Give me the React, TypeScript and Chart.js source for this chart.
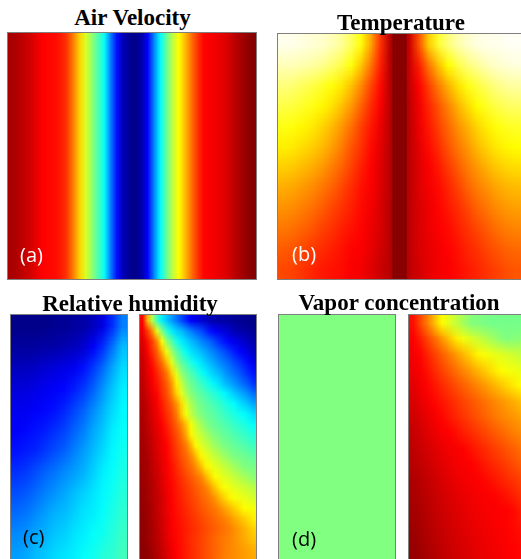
import React, { useEffect, useRef } from 'react';
import { Chart, registerables } from 'chart.js';

Chart.register(...registerables);

// ---------- data (normalised field values) ----------
// (a) Air velocity: one value per column, left to right (jet colour map)
const AIR_VELOCITY = [
  0.96, 0.95, 0.935, 0.92, 0.9, 0.875, 0.87, 0.865, 0.85, 0.82,
  0.75, 0.67, 0.59, 0.52, 0.45, 0.38, 0.25, 0.14, 0.06, 0.02,
  0.01, 0.04, 0.12, 0.25, 0.37, 0.47, 0.56, 0.625, 0.69, 0.76,
  0.82, 0.87, 0.88, 0.89, 0.9, 0.915, 0.94, 0.96, 0.98, 0.995,
];

// (b) Temperature: rows top to bottom, columns left to right (hot colour map)
const TEMPERATURE = [
  [0.98, 0.98, 0.97, 0.96, 0.95, 0.93, 0.9, 0.84, 0.76, 0.62, 0.45, 0.27, 0.2, 0.3, 0.5, 0.68, 0.8, 0.87, 0.92, 0.95, 0.97, 0.98, 0.98, 0.99, 0.99],
  [0.93, 0.93, 0.92, 0.91, 0.89, 0.86, 0.82, 0.76, 0.67, 0.55, 0.42, 0.27, 0.2, 0.3, 0.42, 0.55, 0.66, 0.75, 0.82, 0.87, 0.9, 0.93, 0.95, 0.96, 0.97],
  [0.87, 0.86, 0.84, 0.82, 0.79, 0.76, 0.72, 0.66, 0.58, 0.48, 0.39, 0.27, 0.2, 0.29, 0.38, 0.47, 0.56, 0.64, 0.71, 0.77, 0.81, 0.85, 0.88, 0.9, 0.91],
  [0.82, 0.81, 0.79, 0.77, 0.74, 0.71, 0.66, 0.6, 0.52, 0.44, 0.37, 0.27, 0.2, 0.28, 0.36, 0.43, 0.5, 0.57, 0.64, 0.7, 0.75, 0.79, 0.82, 0.84, 0.85],
  [0.77, 0.76, 0.74, 0.72, 0.69, 0.65, 0.6, 0.54, 0.47, 0.41, 0.35, 0.27, 0.2, 0.28, 0.35, 0.41, 0.47, 0.53, 0.59, 0.64, 0.69, 0.73, 0.76, 0.78, 0.79],
  [0.73, 0.72, 0.7, 0.68, 0.65, 0.61, 0.56, 0.5, 0.45, 0.39, 0.34, 0.27, 0.2, 0.28, 0.34, 0.39, 0.44, 0.5, 0.55, 0.6, 0.65, 0.69, 0.72, 0.74, 0.75],
  [0.68, 0.67, 0.65, 0.63, 0.6, 0.56, 0.52, 0.47, 0.42, 0.38, 0.33, 0.27, 0.2, 0.28, 0.33, 0.37, 0.41, 0.46, 0.51, 0.56, 0.6, 0.64, 0.67, 0.69, 0.7],
  [0.63, 0.62, 0.6, 0.58, 0.55, 0.52, 0.48, 0.44, 0.4, 0.37, 0.33, 0.27, 0.2, 0.28, 0.33, 0.36, 0.39, 0.43, 0.47, 0.52, 0.56, 0.59, 0.62, 0.64, 0.65],
  [0.59, 0.58, 0.56, 0.54, 0.51, 0.48, 0.45, 0.42, 0.39, 0.36, 0.32, 0.27, 0.2, 0.28, 0.32, 0.35, 0.38, 0.41, 0.44, 0.48, 0.52, 0.55, 0.58, 0.6, 0.61],
  [0.55, 0.54, 0.52, 0.5, 0.47, 0.45, 0.42, 0.4, 0.38, 0.35, 0.32, 0.27, 0.2, 0.28, 0.32, 0.35, 0.37, 0.39, 0.42, 0.45, 0.48, 0.51, 0.54, 0.56, 0.57],
  [0.51, 0.5, 0.48, 0.46, 0.44, 0.42, 0.4, 0.38, 0.37, 0.34, 0.31, 0.27, 0.2, 0.28, 0.32, 0.34, 0.36, 0.38, 0.4, 0.43, 0.45, 0.48, 0.5, 0.52, 0.53],
  [0.48, 0.47, 0.45, 0.43, 0.41, 0.4, 0.39, 0.37, 0.36, 0.33, 0.3, 0.27, 0.2, 0.28, 0.31, 0.34, 0.36, 0.37, 0.39, 0.41, 0.43, 0.45, 0.47, 0.49, 0.5],
];
// central wall of panel (b): extent in domain units and its temperature
const TEMP_DOMAIN = [-1, 1];
const WALL_RANGE = [-0.058, 0.058];
const WALL_VALUE = 0.2;
const WALL_EDGE_VALUE = 0.13;

// (c) Relative humidity, left channel and right channel (jet)
const RH_LEFT = [
  [0.01, 0.01, 0.01, 0.01, 0.02, 0.02, 0.03, 0.04, 0.06, 0.1, 0.17, 0.25],
  [0.03, 0.03, 0.03, 0.04, 0.04, 0.05, 0.06, 0.08, 0.12, 0.17, 0.24, 0.31],
  [0.06, 0.06, 0.07, 0.08, 0.09, 0.1, 0.11, 0.14, 0.18, 0.23, 0.29, 0.34],
  [0.09, 0.09, 0.1, 0.11, 0.12, 0.13, 0.15, 0.18, 0.22, 0.27, 0.32, 0.36],
  [0.11, 0.11, 0.12, 0.13, 0.14, 0.16, 0.19, 0.22, 0.26, 0.3, 0.34, 0.37],
  [0.12, 0.13, 0.14, 0.15, 0.17, 0.19, 0.22, 0.25, 0.29, 0.32, 0.36, 0.38],
  [0.14, 0.15, 0.16, 0.18, 0.2, 0.22, 0.25, 0.28, 0.31, 0.34, 0.37, 0.39],
  [0.17, 0.18, 0.2, 0.22, 0.24, 0.26, 0.28, 0.3, 0.33, 0.36, 0.38, 0.4],
  [0.2, 0.21, 0.23, 0.25, 0.27, 0.29, 0.31, 0.33, 0.35, 0.37, 0.39, 0.41],
  [0.23, 0.24, 0.26, 0.28, 0.3, 0.31, 0.33, 0.35, 0.36, 0.38, 0.4, 0.42],
  [0.26, 0.27, 0.29, 0.3, 0.32, 0.33, 0.35, 0.36, 0.38, 0.39, 0.41, 0.43],
  [0.28, 0.29, 0.31, 0.32, 0.34, 0.35, 0.36, 0.38, 0.39, 0.41, 0.42, 0.44],
];
const RH_RIGHT = [
  [0.87, 0.7, 0.55, 0.44, 0.36, 0.32, 0.28, 0.24, 0.2, 0.16, 0.12, 0.1, 0.09, 0.07, 0.05, 0.045, 0.04, 0.035, 0.03, 0.025, 0.02, 0.015, 0.01, 0.01],
  [0.89, 0.82, 0.74, 0.6, 0.5, 0.42, 0.36, 0.33, 0.31, 0.28, 0.25, 0.22, 0.2, 0.17, 0.14, 0.12, 0.1, 0.09, 0.07, 0.05, 0.045, 0.035, 0.03, 0.02],
  [0.91, 0.86, 0.81, 0.74, 0.62, 0.52, 0.46, 0.4, 0.36, 0.335, 0.31, 0.29, 0.26, 0.24, 0.22, 0.19, 0.165, 0.14, 0.12, 0.105, 0.09, 0.075, 0.06, 0.045],
  [0.92, 0.88, 0.83, 0.78, 0.7, 0.61, 0.53, 0.47, 0.42, 0.38, 0.35, 0.33, 0.31, 0.29, 0.265, 0.245, 0.22, 0.2, 0.175, 0.15, 0.13, 0.11, 0.09, 0.065],
  [0.93, 0.895, 0.86, 0.81, 0.765, 0.69, 0.6, 0.52, 0.47, 0.435, 0.4, 0.37, 0.35, 0.325, 0.305, 0.28, 0.26, 0.24, 0.22, 0.195, 0.175, 0.15, 0.13, 0.1],
  [0.935, 0.9, 0.875, 0.84, 0.8, 0.755, 0.675, 0.59, 0.52, 0.48, 0.45, 0.42, 0.39, 0.365, 0.34, 0.32, 0.3, 0.275, 0.25, 0.23, 0.21, 0.185, 0.16, 0.14],
  [0.94, 0.91, 0.885, 0.855, 0.82, 0.78, 0.725, 0.64, 0.57, 0.515, 0.48, 0.46, 0.43, 0.41, 0.385, 0.36, 0.34, 0.31, 0.29, 0.27, 0.245, 0.22, 0.2, 0.17],
  [0.945, 0.92, 0.895, 0.87, 0.83, 0.8, 0.745, 0.67, 0.6, 0.545, 0.505, 0.48, 0.465, 0.445, 0.425, 0.41, 0.39, 0.37, 0.345, 0.32, 0.3, 0.28, 0.255, 0.23],
  [0.95, 0.93, 0.905, 0.88, 0.85, 0.815, 0.78, 0.735, 0.665, 0.595, 0.545, 0.51, 0.485, 0.47, 0.455, 0.44, 0.425, 0.405, 0.39, 0.375, 0.35, 0.33, 0.31, 0.29],
  [0.955, 0.935, 0.91, 0.89, 0.86, 0.83, 0.8, 0.755, 0.68, 0.61, 0.565, 0.53, 0.5, 0.485, 0.47, 0.46, 0.445, 0.43, 0.415, 0.4, 0.39, 0.375, 0.36, 0.34],
  [0.96, 0.94, 0.92, 0.895, 0.875, 0.845, 0.815, 0.78, 0.74, 0.685, 0.615, 0.575, 0.54, 0.51, 0.49, 0.477, 0.465, 0.452, 0.44, 0.428, 0.415, 0.403, 0.39, 0.378],
  [0.96, 0.945, 0.925, 0.905, 0.885, 0.86, 0.83, 0.8, 0.765, 0.71, 0.635, 0.595, 0.57, 0.545, 0.52, 0.5, 0.486, 0.475, 0.463, 0.452, 0.44, 0.43, 0.417, 0.406],
  [0.965, 0.95, 0.93, 0.91, 0.89, 0.872, 0.843, 0.814, 0.785, 0.752, 0.7, 0.63, 0.598, 0.575, 0.553, 0.532, 0.51, 0.495, 0.485, 0.475, 0.465, 0.455, 0.445, 0.435],
  [0.97, 0.955, 0.935, 0.915, 0.895, 0.877, 0.85, 0.824, 0.798, 0.772, 0.742, 0.695, 0.635, 0.606, 0.585, 0.566, 0.548, 0.529, 0.51, 0.497, 0.49, 0.482, 0.474, 0.465],
  [0.97, 0.96, 0.94, 0.92, 0.9, 0.88, 0.86, 0.835, 0.812, 0.789, 0.765, 0.735, 0.69, 0.64, 0.615, 0.598, 0.582, 0.566, 0.55, 0.533, 0.517, 0.5, 0.496, 0.492],
  [0.975, 0.96, 0.945, 0.925, 0.905, 0.885, 0.865, 0.846, 0.826, 0.807, 0.787, 0.768, 0.746, 0.703, 0.66, 0.622, 0.608, 0.594, 0.58, 0.566, 0.552, 0.538, 0.524, 0.51],
  [0.975, 0.965, 0.95, 0.93, 0.91, 0.89, 0.87, 0.853, 0.836, 0.82, 0.803, 0.786, 0.769, 0.752, 0.718, 0.68, 0.642, 0.619, 0.609, 0.598, 0.587, 0.577, 0.566, 0.555],
  [0.98, 0.965, 0.95, 0.935, 0.915, 0.895, 0.874, 0.858, 0.843, 0.828, 0.813, 0.798, 0.783, 0.767, 0.752, 0.726, 0.695, 0.665, 0.635, 0.619, 0.61, 0.602, 0.593, 0.584],
  [0.98, 0.97, 0.955, 0.935, 0.915, 0.895, 0.875, 0.86, 0.848, 0.835, 0.821, 0.808, 0.795, 0.782, 0.769, 0.756, 0.737, 0.715, 0.693, 0.67, 0.648, 0.625, 0.62, 0.613],
  [0.985, 0.97, 0.955, 0.94, 0.92, 0.9, 0.878, 0.865, 0.853, 0.842, 0.83, 0.818, 0.807, 0.795, 0.784, 0.772, 0.76, 0.748, 0.73, 0.711, 0.693, 0.675, 0.657, 0.639],
  [0.985, 0.975, 0.96, 0.94, 0.92, 0.9, 0.88, 0.868, 0.857, 0.847, 0.836, 0.825, 0.815, 0.804, 0.794, 0.783, 0.772, 0.762, 0.751, 0.735, 0.718, 0.702, 0.685, 0.668],
  [0.985, 0.975, 0.96, 0.945, 0.925, 0.905, 0.885, 0.87, 0.858, 0.846, 0.834, 0.822, 0.811, 0.799, 0.787, 0.775, 0.764, 0.752, 0.745, 0.733, 0.72, 0.707, 0.695, 0.683],
  [0.99, 0.98, 0.965, 0.95, 0.93, 0.91, 0.89, 0.873, 0.86, 0.848, 0.836, 0.824, 0.812, 0.8, 0.788, 0.776, 0.765, 0.753, 0.745, 0.737, 0.728, 0.72, 0.712, 0.703],
  [0.99, 0.985, 0.97, 0.955, 0.935, 0.915, 0.895, 0.875, 0.862, 0.85, 0.837, 0.825, 0.812, 0.8, 0.787, 0.775, 0.762, 0.75, 0.743, 0.736, 0.729, 0.722, 0.716, 0.71],
];

// (d) Vapor concentration, left channel (uniform) and right channel (jet)
const VAPOR_LEFT = [[0.5]];
const VAPOR_RIGHT = [
  [0.863, 0.808, 0.753, 0.69, 0.628, 0.596, 0.566, 0.536, 0.506, 0.5, 0.495, 0.49, 0.49, 0.49, 0.49, 0.49],
  [0.877, 0.848, 0.809, 0.77, 0.729, 0.685, 0.642, 0.613, 0.593, 0.573, 0.553, 0.533, 0.513, 0.5, 0.505, 0.51],
  [0.885, 0.872, 0.842, 0.813, 0.784, 0.754, 0.725, 0.694, 0.664, 0.634, 0.618, 0.607, 0.597, 0.586, 0.576, 0.565],
  [0.893, 0.88, 0.859, 0.835, 0.812, 0.789, 0.766, 0.743, 0.72, 0.697, 0.675, 0.652, 0.629, 0.619, 0.611, 0.604],
  [0.903, 0.888, 0.872, 0.854, 0.835, 0.817, 0.798, 0.78, 0.761, 0.742, 0.723, 0.703, 0.683, 0.663, 0.644, 0.625],
  [0.913, 0.898, 0.884, 0.87, 0.855, 0.839, 0.824, 0.808, 0.793, 0.778, 0.762, 0.747, 0.732, 0.717, 0.702, 0.687],
  [0.923, 0.91, 0.897, 0.883, 0.87, 0.854, 0.839, 0.824, 0.809, 0.794, 0.779, 0.764, 0.749, 0.738, 0.727, 0.716],
  [0.932, 0.919, 0.906, 0.894, 0.881, 0.875, 0.861, 0.847, 0.833, 0.819, 0.805, 0.791, 0.777, 0.764, 0.75, 0.74],
  [0.94, 0.928, 0.916, 0.905, 0.895, 0.887, 0.88, 0.874, 0.858, 0.845, 0.832, 0.818, 0.805, 0.792, 0.779, 0.765],
  [0.945, 0.935, 0.925, 0.914, 0.903, 0.893, 0.885, 0.879, 0.875, 0.863, 0.85, 0.837, 0.825, 0.812, 0.799, 0.786],
  [0.955, 0.945, 0.934, 0.923, 0.912, 0.902, 0.893, 0.886, 0.88, 0.877, 0.868, 0.857, 0.845, 0.834, 0.822, 0.81],
  [0.96, 0.95, 0.94, 0.93, 0.92, 0.91, 0.902, 0.895, 0.888, 0.882, 0.878, 0.875, 0.866, 0.855, 0.843, 0.83],
  [0.965, 0.955, 0.945, 0.935, 0.925, 0.916, 0.908, 0.9, 0.893, 0.887, 0.882, 0.879, 0.877, 0.875, 0.865, 0.848],
  [0.97, 0.96, 0.95, 0.94, 0.93, 0.921, 0.913, 0.905, 0.898, 0.892, 0.887, 0.882, 0.877, 0.872, 0.866, 0.858],
  [0.975, 0.965, 0.955, 0.945, 0.935, 0.926, 0.918, 0.91, 0.903, 0.897, 0.891, 0.886, 0.881, 0.876, 0.871, 0.866],
  [0.98, 0.97, 0.96, 0.95, 0.94, 0.93, 0.922, 0.914, 0.907, 0.9, 0.894, 0.889, 0.884, 0.879, 0.875, 0.87],
];

const TITLES = ['Air Velocity', 'Temperature', 'Relative humidity', 'Vapor concentration'];
const TAGS = ['(a)', '(b)', '(c)', '(d)'];

// ---------- colour maps ----------
type Cmap = (t: number) => string;
const clamp = (v: number) => Math.max(0, Math.min(1, v));
const rgb = (r: number, g: number, b: number) =>
  `rgb(${Math.round(clamp(r) * 255)},${Math.round(clamp(g) * 255)},${Math.round(clamp(b) * 255)})`;
const jet: Cmap = (t) => rgb(1.5 - Math.abs(4 * t - 3), 1.5 - Math.abs(4 * t - 2), 1.5 - Math.abs(4 * t - 1));
const hot: Cmap = (t) => rgb(t / 0.375, (t - 0.375) / 0.375, (t - 0.75) / 0.25);

const BORDER = '#7f7f7f';

// A field drawn as stacked bar cells on a small canvas; the browser scales it up smoothly.
function FieldCanvas({ grid, cmap, w, h }: { grid: number[][]; cmap: Cmap; w: number; h: number }) {
  const ref = useRef<HTMLCanvasElement>(null);
  const rows = grid.length;
  const cols = grid[0].length;
  useEffect(() => {
    if (!ref.current) return;
    const labels = grid[0].map((_, i) => String(i));
    const datasets = grid
      .slice()
      .reverse()
      .map((row) => ({
        data: row.map(() => 1),
        backgroundColor: row.map((v) => cmap(v)),
        borderWidth: 0,
        inflateAmount: 0,
        barPercentage: 1,
        categoryPercentage: 1,
      }));
    const chart = new Chart(ref.current, {
      type: 'bar',
      data: { labels, datasets },
      options: {
        animation: false,
        responsive: false,
        devicePixelRatio: 1,
        events: [],
        layout: { padding: 0 },
        plugins: { legend: { display: false }, tooltip: { enabled: false }, title: { display: false } },
        scales: {
          x: { display: false, stacked: true, grid: { display: false } },
          y: { display: false, stacked: true, min: 0, max: rows, grid: { display: false } },
        },
      } as any,
    });
    return () => chart.destroy();
  }, [grid, cmap, rows]);
  return (
    <canvas
      ref={ref}
      width={cols}
      height={rows}
      style={{ position: 'absolute', left: 0, top: 0, width: w, height: h }}
    />
  );
}

// The central wall in the temperature panel, a floating bar on a linear x scale.
function WallCanvas({ w, h }: { w: number; h: number }) {
  const ref = useRef<HTMLCanvasElement>(null);
  useEffect(() => {
    if (!ref.current) return;
    const chart = new Chart(ref.current, {
      type: 'bar',
      data: {
        labels: ['wall'],
        datasets: [
          {
            data: [WALL_RANGE as any],
            backgroundColor: hot(WALL_VALUE),
            borderColor: hot(WALL_EDGE_VALUE),
            borderWidth: { left: 1.2, right: 1.2, top: 0, bottom: 0 },
            borderSkipped: false,
            inflateAmount: 0,
            barPercentage: 1,
            categoryPercentage: 1,
          },
        ],
      },
      options: {
        indexAxis: 'y',
        animation: false,
        responsive: false,
        devicePixelRatio: 1,
        events: [],
        layout: { padding: 0 },
        plugins: { legend: { display: false }, tooltip: { enabled: false } },
        scales: {
          x: { display: false, type: 'linear', min: TEMP_DOMAIN[0], max: TEMP_DOMAIN[1] },
          y: { display: false },
        },
      } as any,
    });
    return () => chart.destroy();
  }, []);
  return <canvas ref={ref} width={w} height={h} style={{ position: 'absolute', left: 0, top: 0, width: w, height: h }} />;
}

function Panel({ x, y, w, h, children }: { x: number; y: number; w: number; h: number; children: React.ReactNode }) {
  return (
    <div
      style={{
        position: 'absolute',
        left: x,
        top: y,
        width: w,
        height: h,
        boxSizing: 'border-box',
        border: `1px solid ${BORDER}`,
        overflow: 'hidden',
      }}
    >
      <div style={{ position: 'relative', width: w - 2, height: h - 2 }}>{children}</div>
    </div>
  );
}

const titleStyle = (cx: number, top: number, size: number): React.CSSProperties => ({
  position: 'absolute',
  left: cx,
  top,
  transform: 'translateX(-50%)',
  whiteSpace: 'nowrap',
  fontFamily: '"Liberation Serif", "Times New Roman", serif',
  fontWeight: 'bold',
  fontSize: size,
  lineHeight: `${size}px`,
  color: '#000',
  zIndex: 5,
});

const tagStyle = (x: number, top: number, color: string): React.CSSProperties => ({
  position: 'absolute',
  left: x,
  top,
  whiteSpace: 'nowrap',
  fontFamily: '"Open Sans", "Noto Sans", sans-serif',
  fontSize: 20,
  lineHeight: '20px',
  color,
  zIndex: 5,
});

export default function App() {
  return (
    <div
      style={{
        position: 'fixed',
        left: 0,
        top: 0,
        width: 521,
        height: 559,
        overflow: 'hidden',
        background: '#ffffff',
      }}
    >
      {/* (a) */}
      <Panel x={7} y={32} w={250} h={248}>
        <FieldCanvas grid={[AIR_VELOCITY]} cmap={jet} w={248} h={246} />
      </Panel>
      {/* (b) */}
      <Panel x={277} y={33} w={245} h={247}>
        <FieldCanvas grid={TEMPERATURE} cmap={hot} w={243} h={245} />
        <WallCanvas w={243} h={245} />
      </Panel>
      {/* (c) */}
      <Panel x={10} y={314} w={118} h={252}>
        <FieldCanvas grid={RH_LEFT} cmap={jet} w={116} h={250} />
      </Panel>
      <Panel x={139} y={314} w={118} h={252}>
        <FieldCanvas grid={RH_RIGHT} cmap={jet} w={116} h={250} />
      </Panel>
      {/* (d) */}
      <Panel x={278} y={314} w={118} h={252}>
        <FieldCanvas grid={VAPOR_LEFT} cmap={jet} w={116} h={250} />
      </Panel>
      <Panel x={408} y={314} w={118} h={252}>
        <FieldCanvas grid={VAPOR_RIGHT} cmap={jet} w={116} h={250} />
      </Panel>

      <div style={titleStyle(132.5, 6.2, 23)}>{TITLES[0]}</div>
      <div style={titleStyle(401, 10.7, 23)}>{TITLES[1]}</div>
      <div style={titleStyle(130, 292.2, 23)}>{TITLES[2]}</div>
      <div style={titleStyle(399, 290.7, 23)}>{TITLES[3]}</div>

      <div style={tagStyle(20, 244.7, '#ffffff')}>{TAGS[0]}</div>
      <div style={tagStyle(292, 243.7, '#ffffff')}>{TAGS[1]}</div>
      <div style={tagStyle(23, 527.4, '#000000')}>{TAGS[2]}</div>
      <div style={tagStyle(292, 528.7, '#000000')}>{TAGS[3]}</div>
    </div>
  );
}
